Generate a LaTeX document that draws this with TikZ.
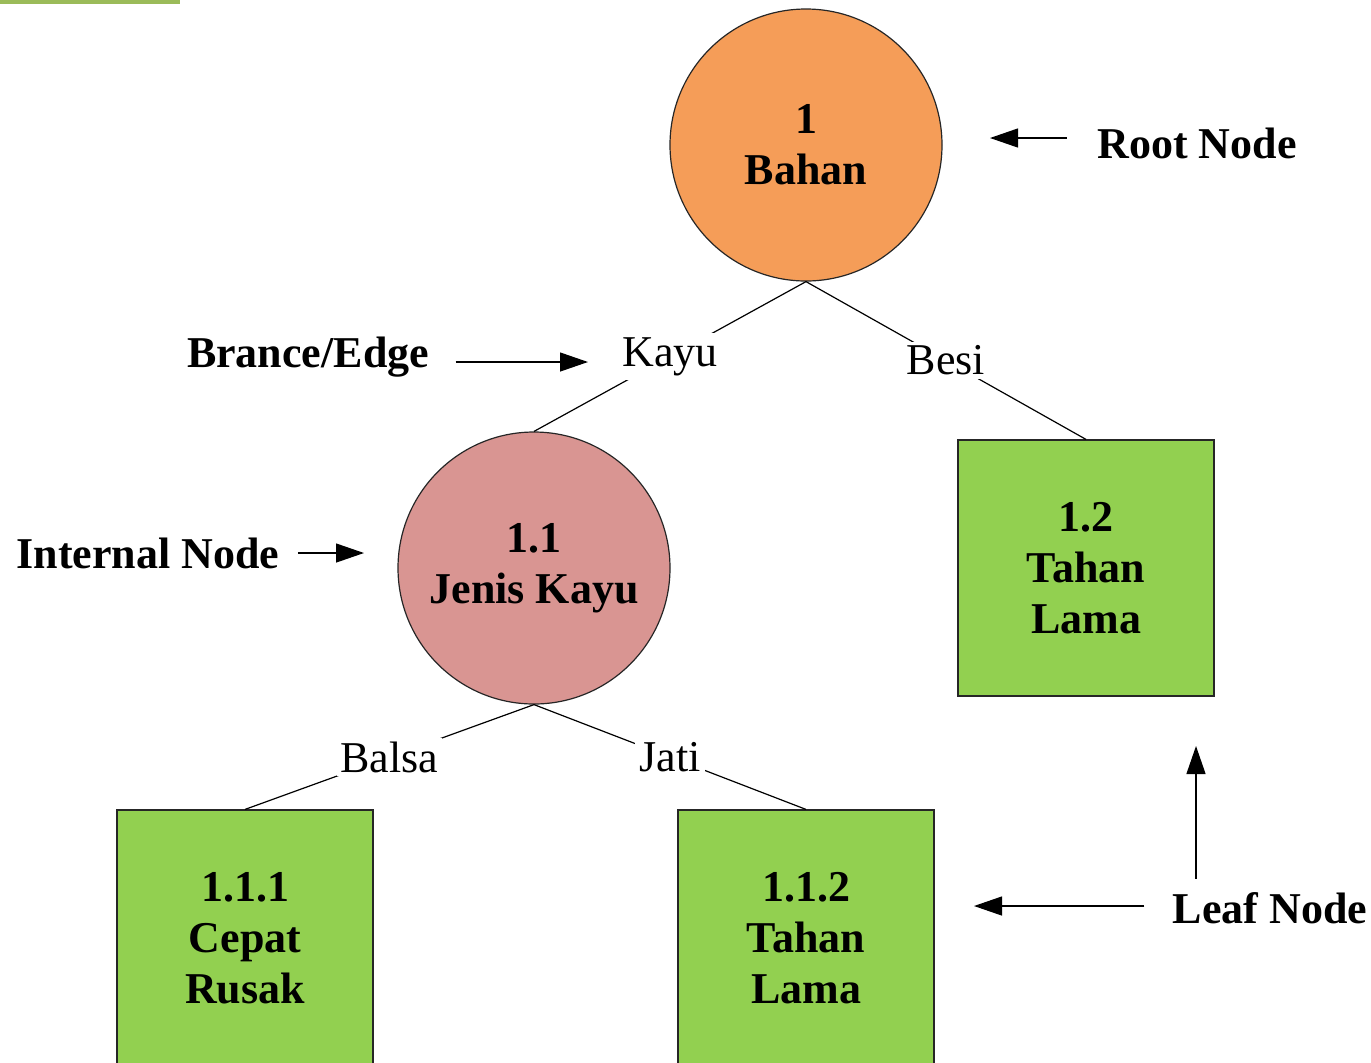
\documentclass[tikz,border=0pt]{standalone}
\usepackage{fontspec}
\setmainfont{Liberation Serif}
\usetikzlibrary{arrows.meta,trees}
\newcommand{\teks}{\fontsize{22}{25.5}\selectfont}
\definecolor{oranye}{RGB}{245,157,88}
\definecolor{merahmuda}{RGB}{217,149,146}
\definecolor{hijau}{RGB}{146,208,80}
\definecolor{hijaubar}{RGB}{155,187,89}

\begin{document}
\begin{tikzpicture}[x=0.5pt, y=-0.5pt, line width=0.6pt]
        \tikzstyle{every node}=[font=\teks, align=center, inner sep=1pt]
        \tikzstyle{level 1}=[grow via three points={one child at (0pt,-211.5pt) and two children at (-136pt,-211.5pt) and (140pt,-211.5pt)}]
        \tikzstyle{level 2}=[grow via three points={one child at (0pt,-185pt) and two children at (-144.5pt,-185pt) and (136pt,-185pt)}]
        \tikzstyle{bulat}=[circle, draw=black!85, minimum size=136pt, font=\teks\bfseries]
        \tikzstyle{daun}=[rectangle, draw=black!85, fill=hijau, minimum size=128pt, font=\teks\bfseries]
        \tikzstyle{cabang}=[fill=white, inner sep=2pt]
        \tikzstyle{ket}=[font=\teks\bfseries]
        \tikzstyle{panah}=[-{Triangle[length=14pt, width=9.5pt]}]
        \useasboundingbox (0,0) rectangle (1371,1062);
        \fill[hijaubar] (0,0) rectangle (180,4);
        \node [bulat, fill=oranye] (bahan) at (806,145) {1\\Bahan} [parent anchor=south, child anchor=north] child {node [bulat, fill=merahmuda] (jenis) {1.1\\Jenis Kayu} child {node [daun] (cepat) {1.1.1\\Cepat\\Rusak} edge from parent node [cabang] (balsa) {Balsa}} child {node [daun] (tahan2) {1.1.2\\Tahan\\Lama} edge from parent node [cabang] (jati) {Jati}} edge from parent node [cabang] (kayu) {Kayu}} child {node [daun] (tahan1) {1.2\\Tahan\\Lama} edge from parent node [cabang] (besi) {Besi}};
        \node [ket] (lroot) at (1197,143) {Root Node};
        \node [ket] (ledge) at (308,357) {Brance/Edge};
        \node [ket] (linternal) at (148,553) {Internal Node};
        \node [ket] (lleaf) at (1270,908) {Leaf Node};
        \coordinate (troot) at (990,138);
        \coordinate (tedge) at (588,362);
        \coordinate (tinternal) at (364,553);
        \coordinate (tleaf) at (974,906);
        \coordinate (tleafatas) at (1196,746);
        \draw [panah, shorten <=14pt] (lroot.west |- troot) -- (troot);
        \draw [panah, shorten <=12pt] (ledge.east |- tedge) -- (tedge);
        \draw [panah, shorten <=8pt] (linternal.east |- tinternal) -- (tinternal);
        \draw [panah, shorten <=13pt] (lleaf.west |- tleaf) -- (tleaf);
        \draw [panah, shorten <=5.5pt] (tleafatas |- lleaf.north) -- (tleafatas);
    \end{tikzpicture}
\end{document}
